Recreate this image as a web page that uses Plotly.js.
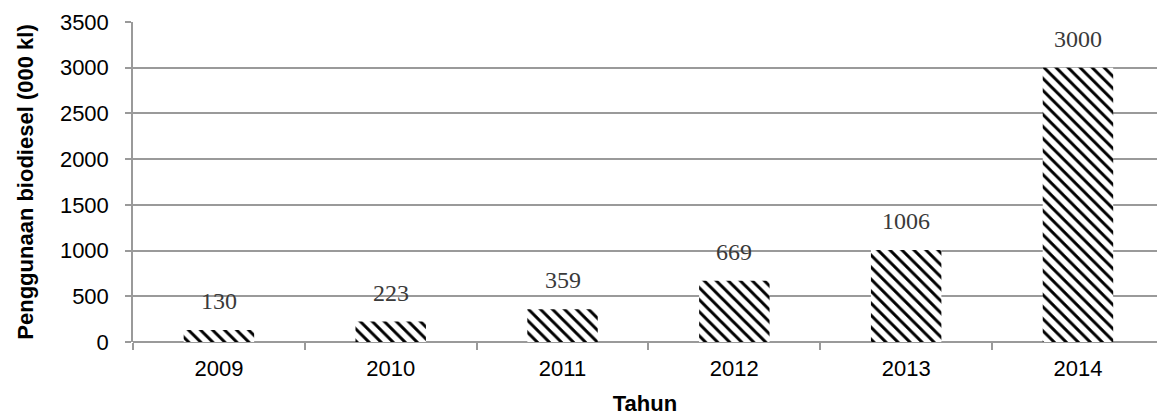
<!DOCTYPE html>
<html>
<head>
<meta charset="utf-8">
<script src="https://cdn.plot.ly/plotly-3.0.1.min.js"></script>
<style>html,body{margin:0;padding:0;background:#fff;}#chart{width:1157px;height:416px;}</style>
</head>
<body>
<div id="chart"></div>
<script>
const years = ['2009', '2010', '2011', '2012', '2013', '2014'];
const usage = [130, 223, 359, 669, 1006, 3000];
const yTicks = [0, 500, 1000, 1500, 2000, 2500, 3000, 3500];

const trace = {
  type: 'bar',
  x: years,
  y: usage,
  width: 0.41,
  marker: {
    color: '#ffffff',
    line: {width: 0},
    pattern: {shape: '\\', fgcolor: '#000000', bgcolor: '#ffffff', size: 8.5, solidity: 0.35}
  },
  hoverinfo: 'x+y'
};

const annotations = years.map((yr, i) => ({
  x: i, y: usage[i], xref: 'x', yref: 'y',
  text: String(usage[i]), showarrow: false,
  yanchor: 'bottom', yshift: 14,
  font: {family: 'Liberation Serif, serif', size: 24, color: '#3a3a3a'}
}));

const layout = {
  width: 1157, height: 416,
  margin: {l: 133, r: 0, t: 22, b: 74},
  paper_bgcolor: '#ffffff', plot_bgcolor: '#ffffff',
  showlegend: false,
  font: {family: 'Liberation Sans, Arial, sans-serif', color: '#000'},
  xaxis: {
    type: 'category',
    range: [-0.5, 5.46],
    showgrid: false,
    showline: false,
    ticks: 'outside', tickson: 'boundaries', ticklen: 7, tickcolor: '#9a9a9a', tickwidth: 1.5,
    ticklabelstandoff: 11,
    tickfont: {size: 22, family: 'Liberation Sans, Arial, sans-serif', color: '#000'},
    title: {text: '<b>Tahun</b>', font: {size: 22, family: 'Liberation Sans, Arial, sans-serif', color: '#000'}, standoff: 20},
    zeroline: false
  },
  yaxis: {
    range: [0, 3500],
    tickvals: yTicks,
    showgrid: true, gridcolor: '#9a9a9a', gridwidth: 1.5,
    showline: true, linecolor: '#9a9a9a', linewidth: 1.5,
    ticks: 'outside', ticklen: 6, tickcolor: '#9a9a9a', tickwidth: 1.5,
    ticklabelstandoff: 12,
    tickfont: {size: 22, family: 'Liberation Sans, Arial, sans-serif', color: '#000'},
    title: {text: '<b>Penggunaan biodiesel (000 kl)</b>', font: {size: 22, family: 'Liberation Sans, Arial, sans-serif', color: '#000'}, standoff: 20},
    zeroline: true, zerolinecolor: '#9a9a9a', zerolinewidth: 1.5
  },
  annotations: annotations
};

Plotly.newPlot('chart', [trace], layout, {displayModeBar: false});
</script>
</body>
</html>
